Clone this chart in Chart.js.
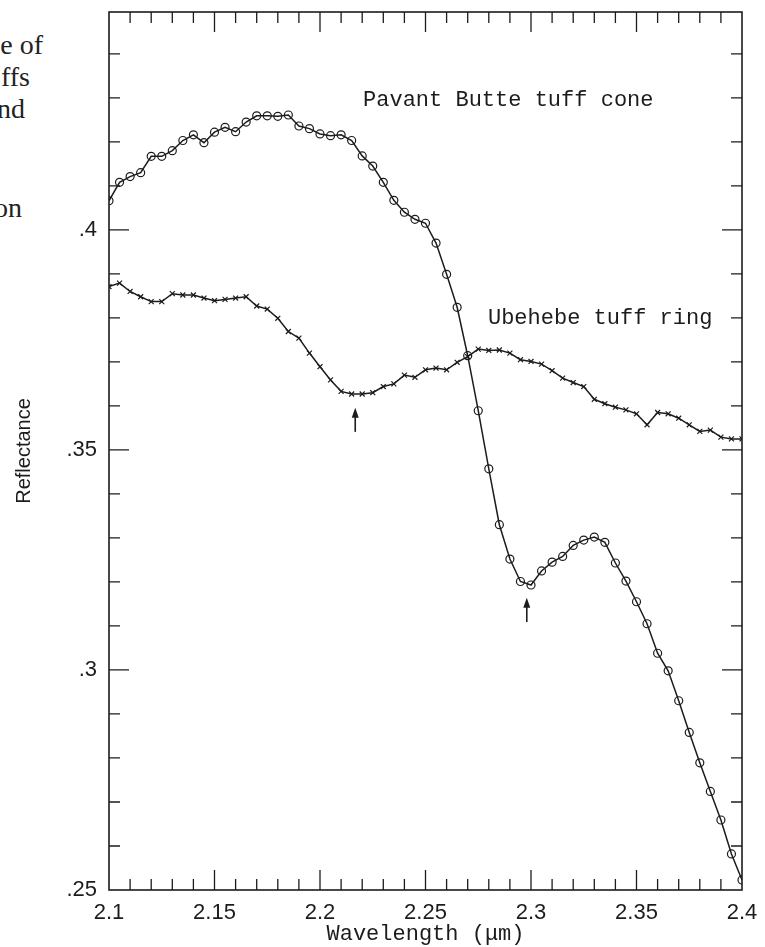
<!DOCTYPE html>
<html>
<head>
<meta charset="utf-8">
<script src="https://cdn.jsdelivr.net/npm/chart.js@4.4.1/dist/chart.umd.min.js"></script>
<style>
  html, body { margin: 0; padding: 0; background: #fff; }
  #wrap { position: relative; width: 765px; height: 947px; overflow: hidden; }
  #wrap canvas { position: absolute; left: 0; top: 0; }
  .cap { position: absolute; font-family: "Liberation Serif", "DejaVu Serif", serif; font-size: 28px; color: #222; white-space: nowrap; }
</style>
</head>
<body>
<div id="wrap">
  <div class="cap" style="right:722px; top:29px;">e of</div>
  <div class="cap" style="right:735px; top:61px;">ffs</div>
  <div class="cap" style="right:740px; top:93px;">nd</div>
  <div class="cap" style="right:743px; top:192px;">on</div>
  <canvas id="chart" width="765" height="947"></canvas>
</div>
<script>
// wavelength samples (µm)
const wavelengths = [
  2.100, 2.105, 2.110, 2.115, 2.120, 2.125, 2.130, 2.135, 2.140, 2.145,
  2.150, 2.155, 2.160, 2.165, 2.170, 2.175, 2.180, 2.185, 2.190, 2.195,
  2.200, 2.205, 2.210, 2.215, 2.220, 2.225, 2.230, 2.235, 2.240, 2.245,
  2.250, 2.255, 2.260, 2.265, 2.270, 2.275, 2.280, 2.285, 2.290, 2.295,
  2.300, 2.305, 2.310, 2.315, 2.320, 2.325, 2.330, 2.335, 2.340, 2.345,
  2.350, 2.355, 2.360, 2.365, 2.370, 2.375, 2.380, 2.385, 2.390, 2.395,
  2.400
];

// Pavant Butte tuff cone (circles)
const pavantButte = [
  0.4066, 0.4108, 0.4121, 0.4130, 0.4167, 0.4167, 0.4180, 0.4203, 0.4216, 0.4198,
  0.4222, 0.4233, 0.4223, 0.4245, 0.4259, 0.4259, 0.4258, 0.4261, 0.4236, 0.4230,
  0.4218, 0.4214, 0.4216, 0.4203, 0.4168, 0.4145, 0.4108, 0.4067, 0.4040, 0.4024,
  0.4015, 0.3970, 0.3899, 0.3824, 0.3714, 0.3589, 0.3457, 0.3330, 0.3252, 0.3201,
  0.3193, 0.3225, 0.3245, 0.3258, 0.3283, 0.3295, 0.3302, 0.3290, 0.3243, 0.3202,
  0.3155, 0.3105, 0.3038, 0.2998, 0.2930, 0.2858, 0.2789, 0.2724, 0.2659, 0.2582,
  0.2523
];

// Ubehebe tuff ring (crosses)
const ubehebe = [
  0.3871, 0.3879, 0.3860, 0.3848, 0.3837, 0.3837, 0.3855, 0.3852, 0.3852, 0.3845,
  0.3839, 0.3842, 0.3845, 0.3848, 0.3827, 0.3820, 0.3799, 0.3769, 0.3754, 0.3720,
  0.3689, 0.3659, 0.3633, 0.3627, 0.3627, 0.3630, 0.3644, 0.3650, 0.3670, 0.3665,
  0.3682, 0.3686, 0.3682, 0.3699, 0.3712, 0.3729, 0.3726, 0.3727, 0.3720, 0.3705,
  0.3701, 0.3695, 0.3680, 0.3663, 0.3653, 0.3644, 0.3615, 0.3605, 0.3597, 0.3591,
  0.3582, 0.3557, 0.3585, 0.3582, 0.3572, 0.3557, 0.3542, 0.3545, 0.3529, 0.3525,
  0.3525
];

const xTicks = [2.1, 2.15, 2.2, 2.25, 2.3, 2.35, 2.4];
const xTickLabels = ['2.1', '2.15', '2.2', '2.25', '2.3', '2.35', '2.4'];
const yTicks = [0.25, 0.3, 0.35, 0.4];
const yTickLabels = ['.25', '.3', '.35', '.4'];

// text labels and absorption arrows, in data units
const curveLabels = [
  { text: 'Pavant Butte tuff cone', x: 2.2204, y: 0.4295 },
  { text: 'Ubehebe tuff ring', x: 2.2796, y: 0.3800 }
];
const arrows = [
  { x: 2.2167, tip: 0.3596, tail: 0.3541 },
  { x: 2.2980, tip: 0.3164, tail: 0.3109 }
];

const ink = '#1c1c1c';
const monoFont = '"Liberation Mono", "DejaVu Sans Mono", monospace';
const sansFont = '"Liberation Sans", Arial, sans-serif';

function pts(ys) {
  return wavelengths.map((x, i) => ({ x: x, y: ys[i] }));
}

// frame, inward ticks, curve labels and arrows
const framePlugin = {
  id: 'frame',
  afterDatasetsDraw(chart) {
    const { ctx, chartArea: a, scales } = chart;
    const xs = scales.x, ys = scales.y;
    ctx.save();
    ctx.strokeStyle = ink;
    ctx.lineWidth = 1.6;
    ctx.strokeRect(a.left, a.top, a.right - a.left, a.bottom - a.top);

    ctx.lineWidth = 1.3;
    ctx.beginPath();
    for (let k = 1; k < 30; k++) {
      const px = xs.getPixelForValue(2.1 + k * 0.01);
      const len = k % 5 === 0 ? 20 : 11;
      ctx.moveTo(px, a.bottom); ctx.lineTo(px, a.bottom - len);
      ctx.moveTo(px, a.top); ctx.lineTo(px, a.top + len);
    }
    for (let k = 1; k <= 19; k++) {
      const v = 0.25 + k * 0.01;
      if (v > ys.max) break;
      const py = ys.getPixelForValue(v);
      const len = k % 5 === 0 ? 20 : 11;
      ctx.moveTo(a.left, py); ctx.lineTo(a.left + len, py);
      ctx.moveTo(a.right, py); ctx.lineTo(a.right - len, py);
    }
    ctx.stroke();

    ctx.fillStyle = ink;
    ctx.font = '22px ' + monoFont;
    ctx.textBaseline = 'middle';
    ctx.textAlign = 'left';
    curveLabels.forEach(l => {
      ctx.fillText(l.text, xs.getPixelForValue(l.x), ys.getPixelForValue(l.y));
    });

    arrows.forEach(ar => {
      const px = xs.getPixelForValue(ar.x);
      const yt = ys.getPixelForValue(ar.tip);
      const yb = ys.getPixelForValue(ar.tail);
      ctx.lineWidth = 1.6;
      ctx.beginPath();
      ctx.moveTo(px, yb); ctx.lineTo(px, yt + 6);
      ctx.stroke();
      ctx.beginPath();
      ctx.moveTo(px, yt);
      ctx.lineTo(px - 3.5, yt + 10);
      ctx.lineTo(px + 3.5, yt + 10);
      ctx.closePath();
      ctx.fill();
    });
    ctx.restore();
  }
};

new Chart(document.getElementById('chart'), {
  type: 'line',
  data: {
    datasets: [
      {
        label: 'Pavant Butte tuff cone',
        data: pts(pavantButte),
        borderColor: ink,
        borderWidth: 1.5,
        pointStyle: 'circle',
        pointRadius: 4,
        pointBorderWidth: 1.2,
        pointBorderColor: ink,
        pointBackgroundColor: 'rgba(0,0,0,0)',
        tension: 0
      },
      {
        label: 'Ubehebe tuff ring',
        data: pts(ubehebe),
        borderColor: ink,
        borderWidth: 1.5,
        pointStyle: 'crossRot',
        pointRadius: 3.5,
        pointBorderWidth: 1.2,
        pointBorderColor: ink,
        tension: 0
      }
    ]
  },
  options: {
    responsive: false,
    animation: false,
    devicePixelRatio: 1,
    layout: { padding: { top: 12, right: 23, left: 0, bottom: 0 } },
    plugins: { legend: { display: false }, tooltip: { enabled: false } },
    scales: {
      x: {
        type: 'linear',
        min: 2.1,
        max: 2.4,
        afterBuildTicks: s => { s.ticks = xTicks.map(v => ({ value: v })); },
        afterFit: s => { s.height = 57; s.paddingLeft = 0; s.paddingRight = 0; },
        grid: { display: false, drawTicks: false },
        border: { display: false },
        ticks: {
          padding: 10,
          maxRotation: 0,
          autoSkip: false,
          color: ink,
          font: { family: sansFont, size: 22 },
          callback: v => xTickLabels[xTicks.findIndex(t => Math.abs(t - v) < 1e-6)]
        },
        title: {
          display: true,
          text: 'Wavelength (μm)',
          color: ink,
          font: { family: monoFont, size: 22 },
          padding: { top: 0, bottom: 0 }
        }
      },
      y: {
        min: 0.25,
        max: 0.4495,
        afterBuildTicks: s => { s.ticks = yTicks.map(v => ({ value: v })); },
        afterFit: s => { s.width = 109; s.paddingTop = 0; s.paddingBottom = 0; },
        grid: { display: false, drawTicks: false },
        border: { display: false },
        ticks: {
          padding: 12,
          color: ink,
          font: { family: sansFont, size: 22 },
          callback: v => yTickLabels[yTicks.findIndex(t => Math.abs(t - v) < 1e-6)]
        },
        title: {
          display: true,
          text: 'Reflectance',
          color: ink,
          font: { family: sansFont, size: 20 },
          padding: { top: 12, bottom: 0 }
        }
      }
    }
  },
  plugins: [framePlugin]
});
</script>
</body>
</html>
